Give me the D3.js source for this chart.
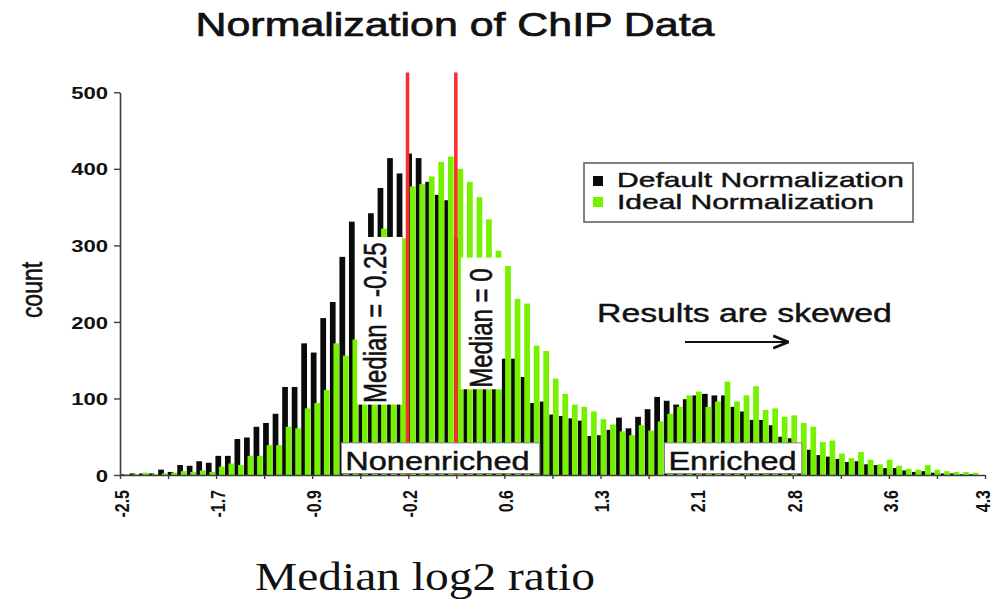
<!DOCTYPE html>
<html>
<head>
<meta charset="utf-8">
<script src="https://cdn.jsdelivr.net/npm/d3@7"></script>
<style>
  body { margin: 0; background: #fff; }
  svg { display: block; }
  text { font-family: "Liberation Sans", Arial, sans-serif; fill: #111; }
</style>
</head>
<body>
<svg id="chart" width="995" height="599"></svg>
<script>
// Histogram bins (log2 ratio, bin width 0.075 from -2.5)
const binStart = -2.5;
const binWidth = 0.075;

const defaultCounts = [
  1, 2, 2, 2, 7, 4, 13, 12, 18, 16,
  25, 25, 47, 49, 63, 68, 80, 115, 115, 172,
  160, 205, 226, 285, 331, 305, 342, 375, 414, 394,
  420, 414, 383, 366, 359, 310, 275, 245, 220, 190,
  152, 152, 128, 94, 96, 79, 77, 74, 71, 51,
  52, 59, 75, 61, 76, 86, 102, 97, 92, 99,
  104, 106, 104, 104, 89, 83, 72, 72, 65, 50,
  48, 40, 33, 26, 24, 21, 17, 18, 14, 13,
  9, 9, 6, 4, 5, 3, 2, 2, 1, 1
];

const idealCounts = [
  1, 1, 3, 1, 2, 3, 5, 4, 6, 4,
  11, 15, 13, 25, 25, 39, 39, 63, 61, 87,
  94, 111, 172, 156, 177, 220, 270, 322, 305, 309,
  377, 380, 390, 409, 416, 400, 383, 363, 334, 293,
  273, 230, 224, 169, 162, 126, 106, 92, 89, 83,
  73, 66, 57, 52, 65, 58, 70, 80, 89, 104,
  109, 89, 96, 122, 96, 104, 116, 85, 87, 76,
  78, 68, 63, 43, 45, 28, 22, 30, 20, 14,
  20, 12, 8, 7, 13, 7, 5, 4, 4, 3
];

const seriesNames = ['Default Normalization', 'Ideal Normalization'];
const xTickLabels = ['-2.5', '-1.7', '-0.9', '-0.2', '0.6', '1.3', '2.1', '2.8', '3.6', '4.3'];
const yTickValues = [0, 100, 200, 300, 400, 500];
const medianLines = [-0.24, 0.14];

const colors = { black: '#0a0a0a', green: '#76f200', red: '#ff2a2a', axis: '#3c3f48' };
const sx = 1.3; // the picture is stretched sideways

const svg = d3.select('#chart');
svg.append('rect').attr('width', 995).attr('height', 599).attr('fill', '#fff');

const x = d3.scaleLinear()
  .domain([-2.5, 4.3])
  .range([120, 985]);

const y = d3.scaleLinear()
  .domain([0, 500])
  .range([475, 92.3]);

const bw = x(binStart + binWidth) - x(binStart);

// stretched text helper
function label(g, txt, px, py, size, opts = {}) {
  const rot = opts.rotate ? ' rotate(-90)' : '';
  return g.append('text')
    .attr('transform', `translate(${px},${py}) scale(${opts.sx || sx},1)${rot}`)
    .attr('text-anchor', opts.anchor || 'start')
    .attr('dy', opts.dy || null)
    .style('font-size', size + 'px')
    .style('stroke', '#111')
    .style('stroke-width', opts.stroke || 0.45)
    .text(txt);
}

// Bars
const bars = svg.append('g');
bars.selectAll('rect.default')
  .data(defaultCounts)
  .join('rect')
  .attr('class', 'default')
  .attr('x', (d, i) => x(binStart + i * binWidth))
  .attr('width', bw * 0.6)
  .attr('y', d => y(d))
  .attr('height', d => y(0) - y(d))
  .attr('fill', colors.black);

bars.selectAll('rect.ideal')
  .data(idealCounts)
  .join('rect')
  .attr('class', 'ideal')
  .attr('x', (d, i) => x(binStart + i * binWidth) + bw * 0.37)
  .attr('width', bw * 0.6)
  .attr('y', d => y(d))
  .attr('height', d => y(0) - y(d))
  .attr('fill', colors.green);

// Median lines
svg.append('g').selectAll('line')
  .data(medianLines)
  .join('line')
  .attr('x1', d => x(d)).attr('x2', d => x(d))
  .attr('y1', y(526)).attr('y2', y(0))
  .attr('stroke', colors.red)
  .attr('stroke-width', 3.5);

// Median label boxes (white, rotated text)
const notes = svg.append('g');
notes.append('rect')
  .attr('x', x(-0.25) - 49).attr('y', y(311))
  .attr('width', 45).attr('height', y(92) - y(311))
  .attr('fill', '#fff');
label(notes, 'Median = -0.25', x(-0.25) - 20, y(94), 24, { rotate: true });

notes.append('rect')
  .attr('x', x(0.14) + 5).attr('y', y(284))
  .attr('width', 41).attr('height', y(112) - y(284))
  .attr('fill', '#fff');
label(notes, 'Median = 0', x(0.14) + 36, y(114), 24, { rotate: true });

// Region boxes
const regions = [
  { text: 'Nonenriched', from: -0.76, to: 0.8 },
  { text: 'Enriched', from: 1.78, to: 2.86 }
];
const regionG = svg.append('g').selectAll('g')
  .data(regions)
  .join('g');
regionG.append('rect')
  .attr('x', d => x(d.from))
  .attr('y', y(42))
  .attr('width', d => x(d.to) - x(d.from))
  .attr('height', y(2) - y(42))
  .attr('fill', '#fff')
  .attr('stroke', '#808080')
  .attr('stroke-width', 1);
regionG.each(function (d) {
  label(d3.select(this), d.text, x(d.from) + 4, y(7), 25);
});

// Skew note and arrow
label(svg, 'Results are skewed', 597, 322, 26);
svg.append('defs').append('marker')
  .attr('id', 'head')
  .attr('viewBox', '0 0 10 10')
  .attr('refX', 9).attr('refY', 5)
  .attr('markerWidth', 7).attr('markerHeight', 7)
  .attr('orient', 'auto')
  .append('path')
  .attr('d', 'M0,1 L10,5 L0,9')
  .attr('fill', 'none')
  .attr('stroke', '#111')
  .attr('stroke-width', 1.8);
svg.append('line')
  .attr('x1', 685).attr('x2', 787)
  .attr('y1', 342).attr('y2', 342)
  .attr('stroke', '#111')
  .attr('stroke-width', 2.2)
  .attr('marker-end', 'url(#head)');

// Legend
const legend = svg.append('g').attr('transform', 'translate(584,163)');
legend.append('rect')
  .attr('width', 329).attr('height', 59)
  .attr('fill', '#fff')
  .attr('stroke', '#5a5a5a')
  .attr('stroke-width', 1.5);
const legendColors = [colors.black, colors.green];
seriesNames.forEach((name, i) => {
  legend.append('rect')
    .attr('x', 9).attr('y', 13 + i * 21)
    .attr('width', 10).attr('height', 10)
    .attr('fill', legendColors[i]);
  label(legend, name, 33, 24 + i * 22, 21, { sx: 1.43 });
});

// Axes
const xTickValues = d3.range(xTickLabels.length * 2 - 1)
  .map(k => x.domain()[0] + k * (x.domain()[1] - x.domain()[0]) / ((xTickLabels.length - 1) * 2));

const xAxisG = svg.append('g')
  .attr('transform', `translate(0,${y(0)})`)
  .call(d3.axisBottom(x)
    .tickValues(xTickValues)
    .tickSize(4)
    .tickSizeOuter(0)
    .tickFormat((d, i) => (i % 2 ? '' : xTickLabels[i / 2])));
xAxisG.selectAll('text')
  .attr('x', null).attr('y', null).attr('dy', '0.35em')
  .attr('text-anchor', 'end')
  // last label sits at the page edge, nudge it in a little
  .attr('transform', (d, i, nodes) =>
    `translate(${i === nodes.length - 1 ? -3 : 1},15) scale(${sx},1) rotate(-90)`)
  .style('font-size', '16px')
  .style('font-weight', 'bold')
  .style('font-family', '"Liberation Sans", Arial, sans-serif')
  .attr('fill', '#111');

const yAxisG = svg.append('g')
  .attr('transform', `translate(${x(-2.5)},0)`)
  .call(d3.axisLeft(y)
    .tickValues(yTickValues)
    .tickSize(6)
    .tickSizeOuter(0));
yAxisG.selectAll('text')
  .attr('x', null).attr('dy', '0.36em')
  .attr('transform', `translate(-12,0) scale(${sx},1)`)
  .style('font-size', '17px')
  .style('font-weight', 'bold')
  .style('font-family', '"Liberation Sans", Arial, sans-serif')
  .attr('fill', '#111');

[xAxisG, yAxisG].forEach(g => {
  g.select('.domain').attr('stroke', colors.axis).attr('stroke-width', 1.6);
  g.selectAll('.tick line').attr('stroke', colors.axis).attr('stroke-width', 1.4);
});

// Titles
label(svg, 'Normalization of ChIP Data', 455, 36, 33, { anchor: 'middle', stroke: 0.7 });
label(svg, 'count', 32, 290, 23, { rotate: true, anchor: 'middle', dy: '0.35em' });

svg.append('text')
  .attr('x', 255).attr('y', 590)
  .attr('textLength', 340)
  .attr('lengthAdjust', 'spacingAndGlyphs')
  .style('font-family', '"Liberation Serif", "Times New Roman", serif')
  .style('font-size', '40px')
  .text('Median log2 ratio');
</script>
</body>
</html>
